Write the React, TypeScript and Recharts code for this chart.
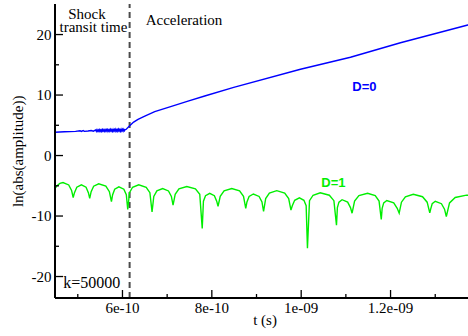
import React from "react";
import { LineChart, Line, XAxis, YAxis, ReferenceLine } from "recharts";

// time values are in units of 1e-10 s
const xDomain: [number, number] = [4.49, 13.89];
const yDomain: [number, number] = [-23.55, 25.05];
const xMajorTicks = [6, 8, 10, 12];
const xMajorLabels = ["6e-10", "8e-10", "1e-09", "1.2e-09"];
const xMinorTicks = [5, 7, 9, 11, 13];
const yMajorTicks = [-20, -10, 0, 10, 20];
const yMajorLabels = ["-20", "-10", "0", "10", "20"];
const yMinorTicks = [-15, -5, 5, 15];
const shockTime = 6.16;

// D=0 series: [t (1e-10 s), ln|amplitude|]
const d0Points: [number, number][] = [
  [4.49, 3.84], [4.7, 3.92], [4.95, 4.0], [5.05, 4.1], [5.08, 3.98], [5.12, 4.12], [5.15, 4.0],
  [5.229, 4.06], [5.3, 4.14], [5.35, 4.02],
  [5.4, 4.24], [5.415, 4.0], [5.43, 4.26], [5.445, 4.02], [5.46, 4.22], [5.475, 3.99], [5.49, 4.27],
  [5.505, 4.03], [5.52, 4.25], [5.535, 4.0], [5.55, 4.28], [5.565, 4.04], [5.58, 4.24], [5.595, 4.01],
  [5.61, 4.29], [5.625, 4.03], [5.64, 4.26], [5.655, 4.0], [5.67, 4.3], [5.685, 4.05], [5.7, 4.27],
  [5.715, 4.02], [5.73, 4.31], [5.745, 4.04], [5.76, 4.28], [5.775, 4.01], [5.79, 4.32], [5.805, 4.06],
  [5.82, 4.29], [5.835, 4.02], [5.85, 4.33], [5.865, 4.05], [5.88, 4.3], [5.895, 4.01], [5.91, 4.34],
  [5.925, 4.06], [5.94, 4.31], [5.955, 4.03], [5.97, 4.35], [5.985, 4.07], [6.0, 4.32], [6.015, 4.05],
  [6.03, 4.34], [6.045, 4.1], [6.06, 4.3],
  [6.08, 4.32], [6.162, 4.93], [6.25, 5.53], [6.348, 5.99], [6.5, 6.5], [6.722, 7.25],
  [7.096, 8.14], [7.467, 9.0], [7.841, 9.84], [8.49, 11.28], [9.984, 14.26], [11.103, 16.24],
  [12.222, 18.65], [13.729, 21.58], [13.886, 21.89],
];

// D=1 series: [t (1e-10 s), ln|amplitude|]
const d1Points: [number, number][] = [
  [4.49, -5.42], [4.54, -4.95], [4.6, -4.6], [4.669, -4.46], [4.797, -4.86], [4.861, -5.76], [4.897, -6.94],
  [4.926, -6.14], [4.978, -5.24], [5.081, -4.84], [5.185, -5.24], [5.237, -6.14], [5.267, -7.07],
  [5.299, -5.97], [5.355, -5.07], [5.468, -4.67], [5.628, -5.07], [5.707, -5.97], [5.753, -7.6],
  [5.78, -6.47], [5.826, -5.57], [5.92, -5.17], [6.031, -5.57], [6.086, -6.47], [6.118, -8.92],
  [6.157, -6.14], [6.226, -5.24], [6.364, -4.84], [6.531, -5.24], [6.614, -6.14], [6.662, -9.34],
  [6.701, -6.75], [6.77, -5.85], [6.9, -5.45], [7.03, -5.85], [7.095, -6.75], [7.132, -8.18],
  [7.18, -6.42], [7.264, -5.52], [7.44, -5.12], [7.633, -5.52], [7.73, -6.42], [7.785, -12.06],
  [7.812, -7.54], [7.859, -6.64], [7.953, -6.24], [8.057, -6.64], [8.109, -7.54], [8.139, -8.38],
  [8.188, -6.75], [8.274, -5.85], [8.446, -5.45], [8.621, -5.85], [8.709, -6.75], [8.759, -8.72],
  [8.786, -7.66], [8.834, -6.76], [8.93, -6.36], [9.058, -6.76], [9.122, -7.66], [9.158, -9.25],
  [9.205, -7.11], [9.288, -6.21], [9.453, -5.81], [9.631, -6.21], [9.72, -7.11], [9.771, -9.01],
  [9.801, -8.3], [9.854, -7.4], [9.96, -7.0], [10.061, -7.4], [10.111, -8.3], [10.14, -15.34],
  [10.186, -7.46], [10.266, -6.56], [10.427, -6.16], [10.63, -6.56], [10.732, -7.46], [10.79, -11.52],
  [10.81, -8.6], [10.845, -7.7], [10.915, -7.3], [11.04, -7.7], [11.103, -8.6], [11.139, -9.53],
  [11.195, -7.53], [11.292, -6.63], [11.486, -6.23], [11.657, -6.63], [11.743, -7.53], [11.792, -10.58],
  [11.812, -8.73], [11.847, -7.83], [11.916, -7.43], [12.071, -7.83], [12.149, -8.73], [12.193, -9.53],
  [12.244, -7.71], [12.332, -6.81], [12.509, -6.41], [12.716, -6.81], [12.819, -7.71], [12.878, -9.47],
  [12.898, -8.86], [12.932, -7.96], [13.001, -7.56], [13.139, -7.96], [13.208, -8.86], [13.248, -10.08],
  [13.32, -7.83], [13.447, -6.93], [13.7, -6.55], [13.886, -6.62],
];

const d0Data = d0Points.map(([t, v]) => ({ t, v }));
const d1Data = d1Points.map(([t, v]) => ({ t, v }));

const SERIF = "'Liberation Serif', 'Times New Roman', serif";
const SANS = "'Liberation Sans', Arial, sans-serif";
const MAJOR = 8;
const MINOR = 4;
const xAllTicks = [...xMinorTicks, ...xMajorTicks].sort((a, b) => a - b);
const yAllTicks = [...yMinorTicks, ...yMajorTicks].sort((a, b) => a - b);

const majorIndex = (list: number[], v: number) => list.findIndex((m) => Math.abs(m - v) < 1e-6);

const bottomTick = (p: any) => {
  const i = majorIndex(xMajorTicks, p.payload.value);
  const len = i >= 0 ? MAJOR : MINOR;
  return (
    <g>
      <line x1={p.x} y1={p.y} x2={p.x} y2={p.y - len} stroke="#000" strokeWidth={1.3} />
      {i >= 0 && (
        <text x={p.x} y={p.y + 15} textAnchor="middle" fontSize={15} fontFamily={SERIF} fill="#000">
          {xMajorLabels[i]}
        </text>
      )}
    </g>
  );
};
const topTick = (p: any) => {
  const i = majorIndex(xMajorTicks, p.payload.value);
  const len = i >= 0 ? MAJOR : MINOR;
  return <line x1={p.x} y1={p.y} x2={p.x} y2={p.y + len} stroke="#000" strokeWidth={1.3} />;
};
const leftTick = (p: any) => {
  const i = majorIndex(yMajorTicks, p.payload.value);
  const len = i >= 0 ? MAJOR : MINOR;
  return (
    <g>
      <line x1={p.x} y1={p.y} x2={p.x + len} y2={p.y} stroke="#000" strokeWidth={1.3} />
      {i >= 0 && (
        <text x={p.x - 3.5} y={p.y + 5} textAnchor="end" fontSize={15} fontFamily={SERIF} fill="#000">
          {yMajorLabels[i]}
        </text>
      )}
    </g>
  );
};
const rightTick = (p: any) => {
  const i = majorIndex(yMajorTicks, p.payload.value);
  const len = i >= 0 ? MAJOR : MINOR;
  return <line x1={p.x} y1={p.y} x2={p.x - len} y2={p.y} stroke="#000" strokeWidth={1.3} />;
};

const axisLine = { stroke: "#000", strokeWidth: 2 };

export default function App() {
  return (
    <div
      style={{
        position: "absolute",
        left: 0,
        top: 0,
        width: 468,
        height: 336,
        overflow: "hidden",
        background: "#fff",
      }}
    >
      <LineChart width={480} height={336} margin={{ top: 4, right: 5, bottom: 0, left: 0 }}>
        <XAxis
          xAxisId="b"
          orientation="bottom"
          type="number"
          dataKey="t"
          domain={xDomain}
          allowDataOverflow
          ticks={xAllTicks}
          interval={0}
          height={38}
          tickSize={0}
          tickMargin={0}
          tickLine={false}
          tick={bottomTick}
          axisLine={axisLine}
        />
        <XAxis
          xAxisId="t"
          orientation="top"
          type="number"
          dataKey="t"
          domain={xDomain}
          allowDataOverflow
          ticks={xAllTicks}
          interval={0}
          height={0}
          tickSize={0}
          tickMargin={0}
          tickLine={false}
          tick={topTick}
          axisLine={axisLine}
        />
        <YAxis
          yAxisId="l"
          orientation="left"
          type="number"
          domain={yDomain}
          allowDataOverflow
          ticks={yAllTicks}
          interval={0}
          width={55}
          tickSize={0}
          tickMargin={0}
          tickLine={false}
          tick={leftTick}
          axisLine={axisLine}
        />
        <YAxis
          yAxisId="r"
          orientation="right"
          type="number"
          domain={yDomain}
          allowDataOverflow
          ticks={yAllTicks}
          interval={0}
          width={0}
          tickSize={0}
          tickMargin={0}
          tickLine={false}
          tick={rightTick}
          axisLine={axisLine}
        />
        <ReferenceLine
          xAxisId="b"
          yAxisId="l"
          x={shockTime}
          stroke="#4a4a4a"
          strokeWidth={2}
          strokeDasharray="6 4"
        />
        <Line
          xAxisId="b"
          yAxisId="l"
          data={d1Data}
          dataKey="v"
          type="linear"
          stroke="#00ee00"
          strokeWidth={1.4}
          dot={false}
          isAnimationActive={false}
        />
        <Line
          xAxisId="b"
          yAxisId="l"
          data={d0Data}
          dataKey="v"
          type="linear"
          stroke="#0000ff"
          strokeWidth={1.4}
          dot={false}
          isAnimationActive={false}
        />
      </LineChart>
      <svg
        width={468}
        height={336}
        style={{ position: "absolute", left: 0, top: 0, pointerEvents: "none" }}
      >
        <text fontSize={15} fontFamily={SERIF} fill="#000" textAnchor="middle">
          <tspan x={87} y={18.8}>Shock</tspan>
          <tspan x={93.5} y={31.7}>transit time</tspan>
        </text>
        <text x={145.7} y={25} fontSize={15} fontFamily={SERIF} fill="#000">
          Acceleration
        </text>
        <text x={352.3} y={90.7} fontSize={13} fontWeight="bold" fontFamily={SANS} fill="#0000ff">
          D=0
        </text>
        <text x={321.3} y={187.3} fontSize={13} fontWeight="bold" fontFamily={SANS} fill="#00ee00">
          D=1
        </text>
        <text x={63.3} y={288} fontSize={16} fontFamily={SERIF} fill="#000">
          k=50000
        </text>
        <text x={265} y={325} textAnchor="middle" fontSize={15} fontFamily={SERIF} fill="#000">
          t (s)
        </text>
        <text
          x={22.7}
          y={151.3}
          textAnchor="middle"
          fontSize={15}
          fontFamily={SERIF}
          fill="#000"
          transform="rotate(-90 22.7 151.3)"
        >
          ln(abs(amplitude))
        </text>
      </svg>
    </div>
  );
}
